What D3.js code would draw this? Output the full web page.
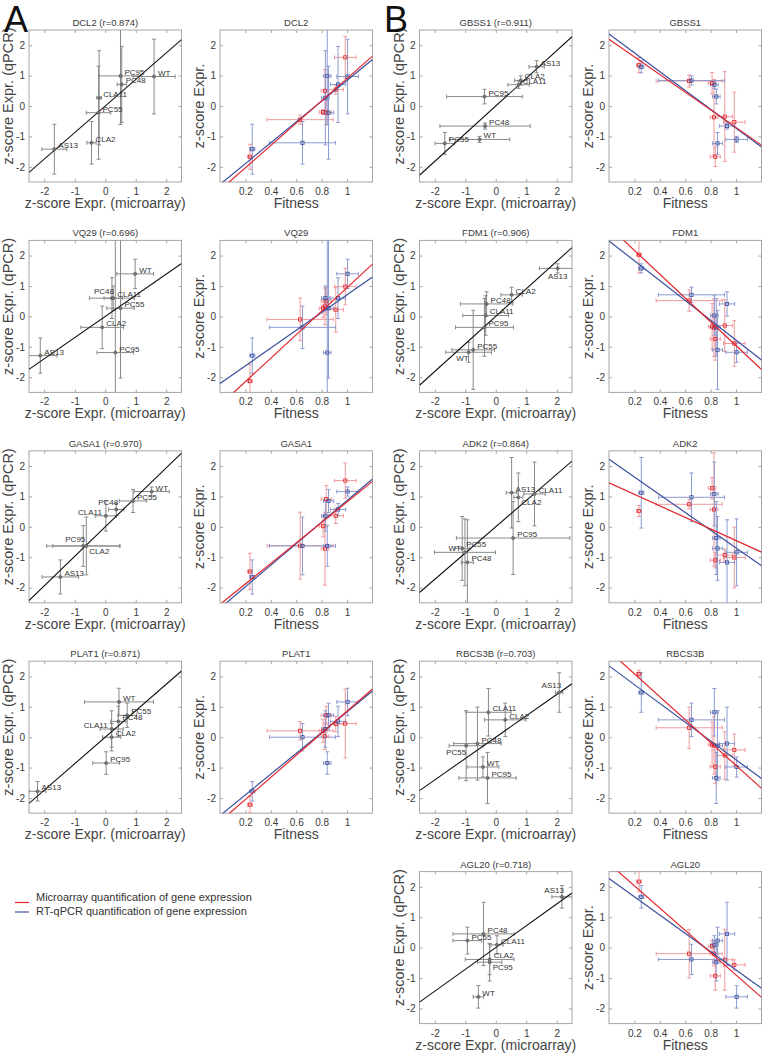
<!DOCTYPE html>
<html><head><meta charset="utf-8">
<script src="https://cdn.jsdelivr.net/npm/d3@7"></script>
<style>body{margin:0;background:#fff} svg{display:block} text{font-family:"Liberation Sans",Arial,Helvetica,sans-serif}</style>
</head><body><svg id="c" width="762" height="1054"></svg>
<script>
// ---- data ----
const strains = ["WT","PC95","PC48","CLA11","PC55","CLA2","AS13"];
const fitness = [0.995, 0.835, 0.92, 0.82, 0.845, 0.64, 0.245];
const fitnessErr = [0.085, 0.03, 0.06, 0.03, 0.04, 0.26, 0.02];
const genes = ["DCL2","VQ29","GASA1","PLAT1","GBSS1","FDM1","ADK2","RBCS3B","AGL20"];
const rValues = [0.874, 0.696, 0.970, 0.871, 0.911, 0.906, 0.864, 0.703, 0.718];
// microarray z-scores (rows: genes, cols: strains)
const microZ = [
  [1.6, 0.5, 0.54, -0.2, -0.22, -0.45, -1.67],
  [0.98, 0.33, 0.22, 0.26, 0.5, -0.1, -2.13],
  [1.52, -0.72, 0.36, 0.02, 0.91, -0.62, -1.47],
  [0.45, 0.03, 0.43, 0.21, 0.72, 0.21, -2.22],
  [-0.53, -0.37, -0.35, 0.75, -1.67, 0.82, 1.34],
  [-0.89, -0.37, -0.3, -0.33, -0.74, 0.52, 2.03],
  [-1.01, 0.57, -0.93, 1.27, -1.1, 0.74, 0.52],
  [-0.42, -0.27, -0.6, -0.24, -0.97, 0.31, 2.08],
  [-0.57, -0.2, -0.4, 0.04, -0.93, -0.2, 2.17]
];
const microErr = [
  [0.69, 0.7, 0.15, 0.08, 0.4, 0.15, 0.41],
  [0.6, 0.6, 0.74, 0.3, 0.45, 0.7, 0.55],
  [0.58, 1.2, 0.25, 0.35, 0.45, 1.1, 0.6],
  [1.13, 0.44, 0.25, 0.38, 0.3, 0.3, 0.27],
  [0.99, 1.24, 1.48, 0.35, 0.32, 0.2, 0.25],
  [0.75, 0.95, 0.86, 0.75, 0.7, 0.35, 0.6],
  [1.0, 1.86, 0.2, 0.35, 0.25, 0.15, 0.18],
  [0.52, 0.94, 0.78, 0.74, 0.56, 0.68, 0.12],
  [0.17, 0.4, 1.0, 0.2, 0.47, 0.8, 0.33]
];
// RT-qPCR z-scores
const qpcrZ = [
  [0.97, 0.99, 0.71, 0.27, -0.22, -1.21, -1.42],
  [1.4, -1.19, 0.6, 0.6, 0.27, -0.36, -1.29],
  [1.16, -0.63, 0.57, 0.36, 0.85, -0.63, -1.65],
  [1.16, -0.85, 0.52, 0.27, 0.72, 0.0, -1.78],
  [-1.1, 0.31, -0.66, 0.7, -1.23, 0.84, 1.29],
  [-1.18, -0.36, 0.41, 0.03, -1.1, 0.71, 1.58],
  [-0.84, -0.37, -1.17, 1.08, -0.71, 0.97, 1.12],
  [-0.98, -1.34, -0.21, 0.82, -0.28, 0.57, 1.47],
  [-1.62, -0.48, 0.45, 0.09, 0.23, -0.39, 1.67]
];
const qpcrErr = [
  [1.23, 1.6, 1.25, 1.55, 1.53, 0.7, 0.82],
  [0.48, 3.7, 0.67, 0.4, 2.3, 0.7, 0.58],
  [0.15, 0.67, 0.2, 0.5, 0.38, 0.95, 0.56],
  [0.45, 0.37, 0.5, 0.6, 0.4, 0.45, 0.32],
  [0.1, 0.24, 0.1, 0.12, 0.36, 0.15, 0.2],
  [0.33, 0.95, 0.4, 0.65, 1.3, 0.25, 0.15],
  [1.1, 1.2, 1.4, 1.05, 1.05, 0.8, 1.16],
  [0.33, 0.84, 1.2, 0.78, 1.15, 0.55, 0.65],
  [0.37, 0.62, 1.04, 0.3, 0.44, 0.5, 0.37]
];
// label side for strain names in scatter panels
const labelSide = [
  ["r","r","r","r","r","r","r"],
  ["r","r","al","r","r","r","r"],
  ["r","al","al","l","r","br","r"],
  ["r","r","r","l","r","r","r"],
  ["r","r","r","r","r","r","r"],
  ["bl","r","r","r","r","r","b"],
  ["l","r","r","r","r","br","r"],
  ["r","r","r","r","bl","r","al"],
  ["r","br","r","r","r","r","al"]
];
const zTicks = [-2,-1,0,1,2];
const fitTicks = [0.2,0.4,0.6,0.8,1];
const legendLabels = ["Microarray quantification of gene expression","RT-qPCR quantification of gene expression"];

// ---- layout / style ----
const svg = d3.select("#c");
const colX = [29, 220, 419.5, 609];
const rowY0 = 30, rowStep = 210.4, boxW = 152.5, boxH = 152;
const RED = "#e3242b", BLUE = "#3a4f9e";
const RED_E = "#f19a9c", BLUE_E = "#8d9bd0";
const AX = "#a6a6a6", TXT = "#3a3a3a";
const FONT = "'Liberation Sans',Arial,sans-serif";

function fitLine(xs, ys) {
  const mx = d3.mean(xs), my = d3.mean(ys);
  let sxy = 0, sxx = 0;
  xs.forEach((x, i) => { sxy += (x - mx) * (ys[i] - my); sxx += (x - mx) * (x - mx); });
  const b = sxy / sxx;
  return { b, a: my - b * mx };
}

let clipId = 0;
function panel(px, py, xDomain, xt, title, xLabel, yLabel, yLabelShift) {
  const g = svg.append("g").attr("transform", `translate(${px},${py})`);
  const x = d3.scaleLinear().domain(xDomain).range([0, boxW]);
  const y = d3.scaleLinear().domain([-2.5, 2.5]).range([boxH, 0]);
  const fmt = d => String(d);
  const styleAxis = (sel, labels) => {
    sel.select(".domain").remove();
    sel.selectAll(".tick line").attr("stroke", AX);
    if (!labels) sel.selectAll(".tick text").remove();
    else sel.selectAll(".tick text").attr("fill", TXT).attr("font-size", 10).attr("font-family", FONT);
  };
  g.append("g").attr("transform", `translate(0,${boxH})`)
    .call(d3.axisBottom(x).tickValues(xt).tickFormat(fmt).tickSizeInner(-3).tickSizeOuter(0).tickPadding(6))
    .call(s => styleAxis(s, true));
  g.append("g")
    .call(d3.axisTop(x).tickValues(xt).tickSizeInner(-3).tickSizeOuter(0))
    .call(s => styleAxis(s, false));
  g.append("g")
    .call(d3.axisLeft(y).tickValues(zTicks).tickFormat(fmt).tickSizeInner(-3).tickSizeOuter(0).tickPadding(4))
    .call(s => styleAxis(s, true));
  g.append("g").attr("transform", `translate(${boxW},0)`)
    .call(d3.axisRight(y).tickValues(zTicks).tickSizeInner(-3).tickSizeOuter(0))
    .call(s => styleAxis(s, false));
  g.append("rect").attr("width", boxW).attr("height", boxH)
    .attr("fill", "none").attr("stroke", AX).attr("stroke-width", 1);
  g.append("text").attr("x", boxW / 2).attr("y", -4).attr("text-anchor", "middle")
    .attr("font-size", 9.5).attr("fill", TXT).text(title);
  g.append("text").attr("x", boxW / 2).attr("y", boxH + 26).attr("text-anchor", "middle")
    .attr("font-size", 14).attr("fill", "#444").text(xLabel);
  g.append("text").attr("transform", `translate(-16,${boxH / 2 - yLabelShift}) rotate(-90)`)
    .attr("text-anchor", "middle").attr("font-size", 14.5).attr("fill", "#444").text(yLabel);
  const id = "clip" + (clipId++);
  g.append("clipPath").attr("id", id).append("rect").attr("width", boxW).attr("height", boxH);
  const inner = g.append("g").attr("clip-path", `url(#${id})`);
  return { g, inner, x, y };
}

function errBar(g, cx, cy, xl, xr, yt, yb, color, cap) {
  const p = d3.path();
  p.moveTo(xl, cy); p.lineTo(xr, cy);
  p.moveTo(xl, cy - cap); p.lineTo(xl, cy + cap);
  p.moveTo(xr, cy - cap); p.lineTo(xr, cy + cap);
  p.moveTo(cx, yt); p.lineTo(cx, yb);
  p.moveTo(cx - cap, yt); p.lineTo(cx + cap, yt);
  p.moveTo(cx - cap, yb); p.lineTo(cx + cap, yb);
  g.append("path").attr("d", p.toString()).attr("fill", "none").attr("stroke", color).attr("stroke-width", 1);
}

genes.forEach((gene, gi) => {
  const col = gi < 4 ? 0 : 2;
  const row = gi < 4 ? gi : gi - 4;
  const py = rowY0 + row * rowStep;

  // scatter: microarray vs qPCR
  const s = panel(colX[col], py, [-2.5, 2.5], zTicks, `${gene} (r=${rValues[gi].toFixed(3)})`,
    "z-score Expr. (microarray)", "z-score Expr. (qPCR)", 10);
  strains.forEach((st, si) => {
    const mx = microZ[gi][si], qy = qpcrZ[gi][si];
    errBar(s.inner, s.x(mx), s.y(qy), s.x(mx - microErr[gi][si]), s.x(mx + microErr[gi][si]),
      s.y(qy + qpcrErr[gi][si]), s.y(qy - qpcrErr[gi][si]), "#8a8a8a", 2);
  });
  s.inner.append("line")
    .attr("x1", s.x(-2.5)).attr("y1", s.y(-2.5 * rValues[gi]))
    .attr("x2", s.x(2.5)).attr("y2", s.y(2.5 * rValues[gi]))
    .attr("stroke", "#111").attr("stroke-width", 1.1);
  strains.forEach((st, si) => {
    const cx = s.x(microZ[gi][si]), cy = s.y(qpcrZ[gi][si]);
    s.inner.append("circle").attr("cx", cx).attr("cy", cy).attr("r", 1.6)
      .attr("fill", "#777").attr("stroke", "#555").attr("stroke-width", 0.6);
    const side = labelSide[gi][si];
    let tx = cx + 4, ty = cy - 1, anchor = "start";
    if (side === "l") { tx = cx - 4; anchor = "end"; }
    else if (side === "al") { tx = cx + 2; ty = cy - 4; anchor = "end"; }
    else if (side === "br") { tx = cx + 3; ty = cy + 8; }
    else if (side === "bl") { tx = cx; ty = cy + 9; anchor = "end"; }
    else if (side === "b") { tx = cx; ty = cy + 11; anchor = "middle"; }
    s.g.append("text").attr("x", tx).attr("y", ty).attr("text-anchor", anchor)
      .attr("font-size", 8).attr("fill", "#333").text(st);
  });

  // fitness panel
  const f = panel(colX[col + 1], py, [0, 1.2], fitTicks, gene, "Fitness", "z-score Expr.", 0);
  const dodge = 0.009;
  const sets = [
    { vals: microZ[gi], errs: microErr[gi], off: -dodge, c: RED, e: RED_E },
    { vals: qpcrZ[gi], errs: qpcrErr[gi], off: dodge, c: BLUE, e: BLUE_E }
  ];
  sets.forEach(set => {
    strains.forEach((st, si) => {
      const fx = fitness[si] + set.off, v = set.vals[si];
      errBar(f.inner, f.x(fx), f.y(v), f.x(fx - fitnessErr[si]), f.x(fx + fitnessErr[si]),
        f.y(v + set.errs[si]), f.y(v - set.errs[si]), set.e, 2);
    });
  });
  sets.forEach(set => {
    strains.forEach((st, si) => {
      f.inner.append("rect")
        .attr("x", f.x(fitness[si] + set.off) - 1.6).attr("y", f.y(set.vals[si]) - 1.6)
        .attr("width", 3.2).attr("height", 3.2)
        .attr("fill", "none").attr("stroke", set.c).attr("stroke-width", 0.8);
    });
  });
  [sets[1], sets[0]].forEach(set => {
    const L = fitLine(fitness, set.vals);
    f.inner.append("line")
      .attr("x1", f.x(0)).attr("y1", f.y(L.a))
      .attr("x2", f.x(1.2)).attr("y2", f.y(L.a + L.b * 1.2))
      .attr("stroke", set.c).attr("stroke-width", 1.2);
  });
});

// panel letters
svg.append("text").attr("x", 4).attr("y", 32).attr("font-size", 36).attr("fill", "#111").text("A");
svg.append("text").attr("x", 384).attr("y", 32).attr("font-size", 36).attr("fill", "#111").text("B");

// legend
const legColors = [RED, BLUE];
const legLineY = [902.5, 912];
const legTextY = [900.5, 914.5];
legendLabels.forEach((lab, i) => {
  svg.append("line").attr("x1", 15).attr("x2", 29).attr("y1", legLineY[i]).attr("y2", legLineY[i])
    .attr("stroke", legColors[i]).attr("stroke-width", 1.2);
  svg.append("text").attr("x", 36).attr("y", legTextY[i]).attr("font-size", 11)
    .attr("fill", "#333").text(lab);
});
</script></body></html>
